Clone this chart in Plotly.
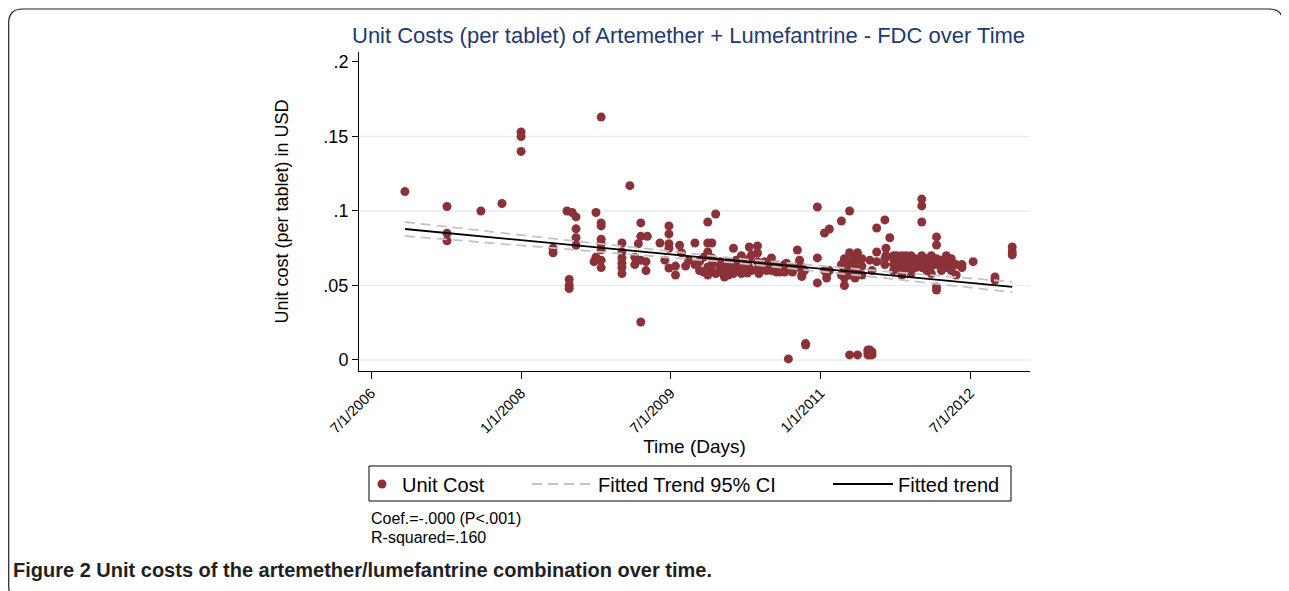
import plotly.graph_objects as go

# purchase dates (one per column of dots) and the unit costs recorded at each
purchase_dates = [
    "2006-11-02", "2007-04-05", "2007-08-07", "2007-10-23", "2008-01-01",
    "2008-04-27", "2008-06-17", "2008-06-25", "2008-07-06", "2008-07-20",
    "2008-09-24", "2008-10-01", "2008-10-20", "2009-01-04", "2009-02-02",
    "2009-02-20", "2009-03-05", "2009-03-14", "2009-04-02", "2009-04-07",
    "2009-05-23", "2009-06-10", "2009-06-25", "2009-07-19", "2009-08-03",
    "2009-08-10", "2009-08-25", "2009-09-05", "2009-09-28", "2009-10-15",
    "2009-10-30", "2009-11-14", "2009-11-29", "2009-12-13", "2009-12-30",
    "2010-01-14", "2010-01-29", "2010-02-16", "2010-02-26", "2010-03-17",
    "2010-03-30", "2010-04-08", "2010-04-15", "2010-04-23", "2010-05-15",
    "2010-05-20", "2010-06-10", "2010-06-17", "2010-07-05", "2010-07-23",
    "2010-08-04", "2010-08-22", "2010-08-29", "2010-09-05", "2010-09-20",
    "2010-10-08", "2010-10-16", "2010-10-24", "2010-11-03", "2010-11-07",
    "2010-12-20", "2011-01-15", "2011-01-23", "2011-02-02", "2011-03-18",
    "2011-03-29", "2011-04-17", "2011-05-07", "2011-05-16", "2011-06-01",
    "2011-06-23", "2011-06-30", "2011-07-08", "2011-07-25", "2011-08-24",
    "2011-08-28", "2011-09-11", "2011-09-25", "2011-10-06", "2011-10-25",
    "2011-11-10", "2011-11-28", "2011-12-14", "2012-01-06", "2012-01-24",
    "2012-02-10", "2012-02-29", "2012-03-18", "2012-04-05", "2012-04-23",
    "2012-05-11", "2012-06-01", "2012-07-12", "2012-09-30", "2012-12-02",
]
unit_costs = [
    [0.113], [0.103, 0.085, 0.080], [0.100], [0.105], [0.153, 0.150, 0.140],
    [0.075, 0.072], [0.100], [0.054, 0.050, 0.048], [0.099], [0.096, 0.088, 0.082, 0.077],
    [0.066], [0.069, 0.099], [0.163, 0.092, 0.090, 0.081, 0.078, 0.074, 0.067, 0.062],
    [0.0785, 0.0725, 0.0685, 0.065, 0.062, 0.058], [0.117],
    [0.064, 0.069], [0.078], [0.092, 0.083, 0.067, 0.0255], [0.066, 0.060], [0.083],
    [0.0785], [0.067], [0.090, 0.0846, 0.078, 0.075, 0.0617], [0.063, 0.057], [0.077],
    [0.072], [0.063], [0.067], [0.0785, 0.064], [0.060, 0.066],
    [0.059, 0.069], [0.0926, 0.0785, 0.0725, 0.0624, 0.057], [0.0785, 0.0685, 0.064, 0.060],
    [0.098, 0.066, 0.058], [0.062, 0.059, 0.066],
    [0.0617, 0.0557, 0.064], [0.060, 0.066, 0.057], [0.075, 0.062, 0.058],
    [0.067, 0.064, 0.060], [0.0624, 0.070, 0.058],
    [0.061, 0.066], [0.0584, 0.064], [0.0758, 0.068, 0.062], [0.0705, 0.060],
    [0.0765, 0.0718, 0.066, 0.061],
    [0.058], [0.066, 0.063], [0.060], [0.0685, 0.064, 0.060], [0.0638, 0.059],
    [0.059, 0.062], [0.059, 0.064], [0.065, 0.060], [0.0007], [0.059, 0.062],
    [0.0738, 0.063], [0.067, 0.062], [0.0624, 0.057, 0.056], [0.060], [0.011, 0.010],
    [0.1027, 0.0685, 0.0517], [0.0852, 0.060], [0.055, 0.058], [0.0879, 0.060],
    [0.0933, 0.064, 0.057],
    [0.050, 0.068, 0.066, 0.060, 0.055], [0.100, 0.072, 0.066, 0.063, 0.057, 0.0034],
    [0.069, 0.065, 0.060, 0.055], [0.0034, 0.072, 0.066, 0.062, 0.058], [0.068, 0.063, 0.057],
    [0.0034, 0.0054, 0.0067], [0.067, 0.0054, 0.0034, 0.0067], [0.060, 0.0034, 0.0054],
    [0.0886, 0.0725, 0.066], [0.094, 0.068, 0.064],
    [0.075, 0.070], [0.082], [0.070, 0.068, 0.064, 0.060], [0.070, 0.066, 0.062],
    [0.070, 0.067, 0.064, 0.060, 0.057],
    [0.070, 0.068, 0.065, 0.062], [0.070, 0.066, 0.064, 0.061, 0.058], [0.068, 0.065, 0.062],
    [0.108, 0.1034, 0.0926, 0.070, 0.066, 0.062], [0.068, 0.064, 0.060],
    [0.070, 0.066, 0.063, 0.058], [0.0826, 0.0772, 0.068, 0.064, 0.049, 0.047],
    [0.067, 0.060, 0.064], [0.070, 0.066, 0.062], [0.068, 0.064, 0.060],
    [0.064, 0.057], [0.064, 0.062], [0.066], [0.0557, 0.0537], [0.0758, 0.0725, 0.0705],
]

# fitted linear trend and its 95% confidence band
trend_dates = ["2006-11-02", "2012-12-02"]
trend_values = [0.0879, 0.049]
ci_dates = ["2006-11-02", "2008-06-01", "2010-03-01", "2011-08-01", "2012-12-02"]
ci_upper = [0.0926, 0.0807, 0.0681, 0.0598, 0.0525]
ci_lower = [0.0832, 0.0747, 0.0651, 0.0554, 0.0455]

x_tick_dates = ["2006-07-01", "2008-01-01", "2009-07-01", "2011-01-01", "2012-07-01"]
x_tick_labels = ["7/1/2006", "1/1/2008", "7/1/2009", "1/1/2011", "7/1/2012"]
y_tick_values = [0, 0.05, 0.1, 0.15, 0.2]
y_tick_labels = ["0", ".05", ".1", ".15", ".2"]
grid_values = [0, 0.05, 0.1, 0.15]

MAROON = '#8b3239'
NAVY = '#1e3a6e'
GRID = '#e6eef1'
CI_GREY = '#c4c4c4'
FONT = 'Liberation Sans, Arial, sans-serif'

# the page body adds an 8px margin, so work in window pixels and shift
OFF = 8
W, H = 1289 - OFF, 591 - OFF
PL, PR, PT, PB = 359, 1030, 52, 371   # plot area in window pixels


def px_x(px):
    return (px - PL) / (PR - PL)


def px_y(py):
    return (PB - py) / (PB - PT)


dates_flat, costs_flat = [], []
for d, vals in zip(purchase_dates, unit_costs):
    for v in vals:
        dates_flat.append(d)
        costs_flat.append(v)

fig = go.Figure()
fig.add_trace(go.Scatter(
    x=dates_flat, y=costs_flat, mode='markers', name='Unit Cost',
    marker=dict(color=MAROON, size=9, line=dict(width=0)), legend='legend',
))
fig.add_trace(go.Scatter(
    x=ci_dates, y=ci_upper, mode='lines', name='Fitted Trend 95% CI',
    line=dict(color=CI_GREY, width=1.8, dash='10px,6px'),
    legendgroup='ci', legend='legend2',
))
fig.add_trace(go.Scatter(
    x=ci_dates, y=ci_lower, mode='lines', name='Fitted Trend 95% CI',
    line=dict(color=CI_GREY, width=1.8, dash='10px,6px'),
    legendgroup='ci', showlegend=False, legend='legend2',
))
fig.add_trace(go.Scatter(
    x=trend_dates, y=trend_values, mode='lines', name='Fitted trend',
    line=dict(color='black', width=1.8), legend='legend3',
))

shapes = []
for g in grid_values:
    shapes.append(dict(type='line', xref='paper', yref='y', x0=0, x1=1, y0=g, y1=g,
                       line=dict(color=GRID, width=1.5), layer='below'))

# legend frame (one box around the three legend entries)
shapes.append(dict(type='rect', xref='paper', yref='paper',
                   x0=px_x(369), x1=px_x(1011), y0=px_y(501), y1=px_y(466),
                   line=dict(color='black', width=1), fillcolor='white', layer='below'))

# rounded outer frame
x0, y0, x1, y1, r = 8.7, 9, 1283, 600, 14
pts = lambda a, b: f"{px_x(a):.5f},{px_y(b):.5f}"
path = (f"M{pts(x0 + r, y0)} L{pts(x1 - r, y0)} Q{pts(x1, y0)} {pts(x1, y0 + r)} "
        f"L{pts(x1, y1 - r)} Q{pts(x1, y1)} {pts(x1 - r, y1)} L{pts(x0 + r, y1)} "
        f"Q{pts(x0, y1)} {pts(x0, y1 - r)} L{pts(x0, y0 + r)} Q{pts(x0, y0)} {pts(x0 + r, y0)} Z")
shapes.append(dict(type='path', xref='paper', yref='paper', path=path,
                   line=dict(color='#222222', width=1.2)))

annotations = [
    dict(text='Unit Costs (per tablet) of Artemether + Lumefantrine - FDC over Time',
         x=px_x(688), y=px_y(36), xref='paper', yref='paper', showarrow=False,
         xanchor='center', yanchor='middle', font=dict(size=22, color=NAVY, family=FONT)),
    dict(text='Coef.=-.000 (P<.001)', x=px_x(369), y=px_y(518), xref='paper', yref='paper',
         showarrow=False, xanchor='left', yanchor='middle', font=dict(size=16, color='black')),
    dict(text='R-squared=.160', x=px_x(369), y=px_y(537), xref='paper', yref='paper',
         showarrow=False, xanchor='left', yanchor='middle', font=dict(size=16, color='black')),
    dict(text='<b>Figure 2 Unit costs of the artemether/lumefantrine combination over time.</b>',
         x=px_x(11), y=px_y(570), xref='paper', yref='paper', showarrow=False,
         xanchor='left', yanchor='middle',
         font=dict(size=20, color='#231f20', family='Liberation Sans Narrow, Arial Narrow, sans-serif')),
]


def legend_box(left_px, item_width):
    return dict(
        orientation='h', x=px_x(left_px), y=px_y(484), xanchor='left', yanchor='middle',
        borderwidth=0, bgcolor='rgba(0,0,0,0)',
        font=dict(size=20, color='black'), itemwidth=item_width,
    )


fig.update_layout(
    width=W, height=H,
    margin=dict(l=PL - OFF, r=W - (PR - OFF), t=PT - OFF, b=H - (PB - OFF), autoexpand=False),
    paper_bgcolor='white', plot_bgcolor='white',
    font=dict(family=FONT, color='black'),
    showlegend=True,
    legend=legend_box(362, 30),
    legend2=legend_box(527, 61),
    legend3=legend_box(828, 60),
    shapes=shapes,
    annotations=annotations,
)
fig.update_xaxes(
    type='date', range=['2006-05-18', '2013-02-05'],
    tickvals=x_tick_dates, ticktext=x_tick_labels, tickangle=-45,
    tickfont=dict(size=14.5), ticks='outside', ticklen=7, tickcolor='black',
    showline=True, linecolor='black', linewidth=1, showgrid=False, zeroline=False,
    title=dict(text='Time (Days)', font=dict(size=19), standoff=4),
)
fig.update_yaxes(
    range=[-0.0074, 0.2067],
    tickvals=y_tick_values, ticktext=y_tick_labels,
    tickfont=dict(size=18), ticks='outside', ticklen=6, tickcolor='black',
    showline=True, linecolor='black', linewidth=1, showgrid=False, zeroline=False,
    title=dict(text='Unit cost (per tablet) in USD', font=dict(size=18), standoff=30),
)

fig.write_html("out.html")
